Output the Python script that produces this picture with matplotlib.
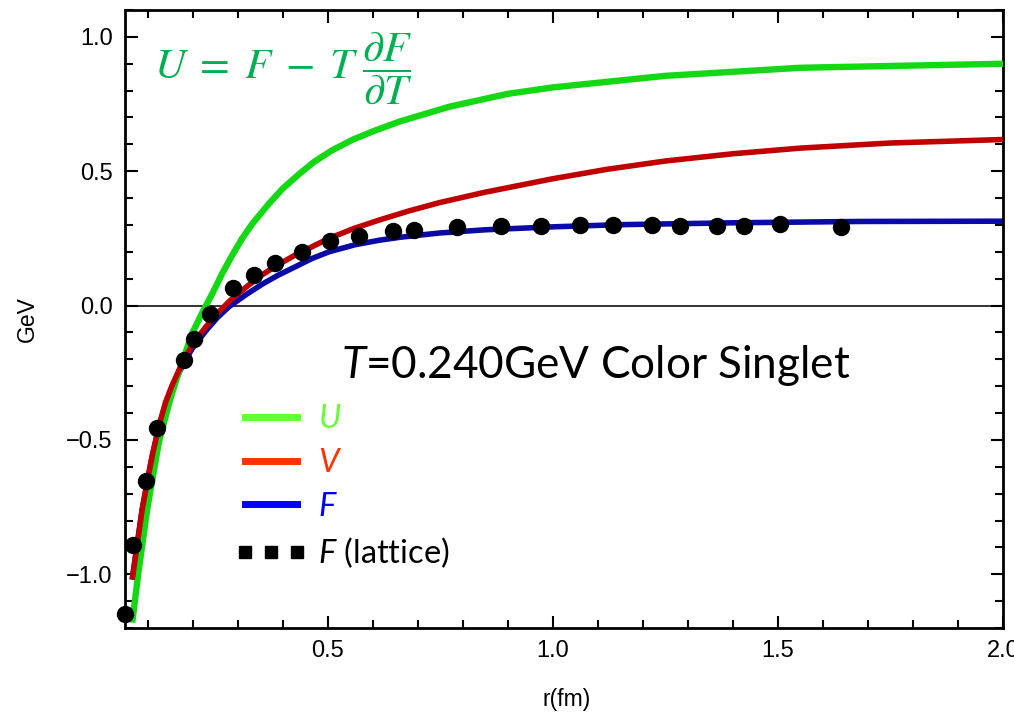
import matplotlib
matplotlib.use("Agg")
import matplotlib.pyplot as plt
from matplotlib.lines import Line2D
from matplotlib.ticker import MultipleLocator, FuncFormatter

plt.rcParams['mathtext.fontset'] = 'custom'
plt.rcParams['mathtext.rm'] = 'Lato'
plt.rcParams['mathtext.it'] = 'Lato:italic'

# ---- data ----
r_U = [0.066, 0.08, 0.10, 0.125, 0.15, 0.175, 0.20, 0.222, 0.244, 0.266, 0.289,
       0.311, 0.333, 0.37, 0.40, 0.437, 0.47, 0.51, 0.555, 0.60, 0.66, 0.77, 0.90, 1.0,
       1.25, 1.55, 2.0]
U = [-1.18, -0.99, -0.75, -0.51, -0.35, -0.22, -0.10, -0.025, 0.045, 0.12, 0.19,
     0.252, 0.305, 0.38, 0.435, 0.49, 0.535, 0.578, 0.617, 0.648, 0.685, 0.74, 0.788, 0.812,
     0.855, 0.885, 0.90]

r_V = [0.066, 0.077, 0.088, 0.10, 0.111, 0.125, 0.14, 0.155, 0.17, 0.185, 0.20, 0.229,
       0.255, 0.281, 0.32, 0.355, 0.39, 0.429, 0.503, 0.56, 0.614, 0.68, 0.748, 0.85,
       1.0, 1.12, 1.25, 1.4, 1.55, 1.75, 2.0]
V = [-1.02, -0.89, -0.76, -0.65, -0.555, -0.45, -0.36, -0.295, -0.24, -0.19, -0.145, -0.08,
     -0.03, 0.015, 0.07, 0.115, 0.152, 0.189, 0.25, 0.288, 0.318, 0.352, 0.383, 0.422,
     0.472, 0.507, 0.538, 0.565, 0.586, 0.605, 0.618]

r_F = [0.066, 0.077, 0.088, 0.10, 0.111, 0.125, 0.14, 0.155, 0.17, 0.185, 0.20, 0.229,
       0.255, 0.281, 0.32, 0.355, 0.39, 0.429, 0.465, 0.503, 0.56, 0.614, 0.66, 0.703,
       0.748, 0.85, 1.0, 1.148, 1.4, 1.68, 2.0]
F = [-1.02, -0.89, -0.76, -0.65, -0.555, -0.455, -0.365, -0.30, -0.25, -0.20, -0.158, -0.095,
     -0.045, -0.004, 0.042, 0.08, 0.113, 0.145, 0.175, 0.20, 0.226, 0.243, 0.254, 0.262,
     0.27, 0.282, 0.293, 0.301, 0.308, 0.313, 0.314]

r_lat = [0.051, 0.068, 0.096, 0.122, 0.181, 0.203, 0.239, 0.289, 0.337, 0.383, 0.443,
         0.505, 0.57, 0.646, 0.692, 0.787, 0.886, 0.974, 1.061, 1.133, 1.22, 1.283,
         1.365, 1.424, 1.505, 1.64]
F_lat = [-1.148, -0.893, -0.653, -0.454, -0.203, -0.124, -0.032, 0.067, 0.115, 0.16, 0.199,
         0.239, 0.26, 0.279, 0.28, 0.292, 0.297, 0.297, 0.301, 0.301, 0.301, 0.297,
         0.297, 0.297, 0.303, 0.291]

labels = ['$U$', '$V$', '$F$', '$F$ (lattice)']
x_ticks = [0.5, 1.0, 1.5, 2.0]
y_ticks = [-1.0, -0.5, 0.0, 0.5, 1.0]

# ---- figure ----
fig = plt.figure(figsize=(10.14, 7.2), dpi=100)
ax = fig.add_axes([0.1233, 0.1278, 0.8659, 0.8583])

ax.axhline(0.0, color='#222222', lw=1.3, zorder=1)
ax.plot(r_F, F, color='#0a0aa8', lw=4.0, zorder=2, solid_capstyle='butt', solid_joinstyle='round')
ax.plot(r_U, U, color='#14d814', lw=4.6, zorder=3, solid_capstyle='butt', solid_joinstyle='round')
ax.plot(r_V, V, color='#c00000', lw=4.0, zorder=4, solid_capstyle='butt', solid_joinstyle='round')
ax.plot(r_lat, F_lat, ls='none', marker='o', ms=11.5, color='black', zorder=6, clip_on=False)

ax.set_xlim(0.05, 2.0)
ax.set_ylim(-1.2, 1.1)
ax.set_xticks(x_ticks)
ax.set_yticks(y_ticks)
ax.xaxis.set_minor_locator(MultipleLocator(0.1))
ax.yaxis.set_minor_locator(MultipleLocator(0.1))
fmt = FuncFormatter(lambda v, p: ('%.1f' % v).replace('-', '\u2212'))
ax.xaxis.set_major_formatter(fmt)
ax.yaxis.set_major_formatter(fmt)
ax.tick_params(which='both', direction='in', top=True, right=True, width=1.5)
ax.tick_params(which='major', length=9, labelsize=17, pad=9)
ax.tick_params(which='minor', length=5.5)
for lab in ax.get_xticklabels() + ax.get_yticklabels():
    lab.set_fontfamily('Liberation Sans')
for sp in ax.spines.values():
    sp.set_linewidth(2.0)

ax.set_xlabel('r(fm)', fontsize=16.5, family='Liberation Sans')
ax.set_ylabel('GeV', fontsize=16.5, family='Liberation Sans')
ax.xaxis.set_label_coords(0.503, -0.097)
ax.yaxis.set_label_coords(-0.098, 0.5)

# legend
handles = [
    Line2D([], [], color='#66ff33', lw=5),
    Line2D([], [], color='#ff3300', lw=5),
    Line2D([], [], color='#0000ff', lw=5),
    Line2D([], [], ls='none', marker='s', ms=9, color='black'),
]
leg = ax.legend(handles, labels, loc='upper left', bbox_to_anchor=(0.125, 0.362),
                frameon=False, borderpad=0, borderaxespad=0, numpoints=3,
                handlelength=2.2, handletextpad=0.35, labelspacing=0.42,
                prop={'family': 'Lato', 'size': 23.5})
for t, c in zip(leg.get_texts(), ['#66ff33', '#ff3300', '#0000ff', 'black']):
    t.set_color(c)

ax.text(0.246, 0.425, '$T$=0.240GeV Color Singlet', transform=ax.transAxes,
        fontsize=31.8, family='Lato', va='center', ha='left')

ax.text(0.033, 0.906, r'$U\;=\;F\;-\;T\;\dfrac{\partial F}{\partial T}$', transform=ax.transAxes,
        fontsize=31, color='#00b050', math_fontfamily='stix', va='center', ha='left')

fig.savefig('out.png', dpi=100)
